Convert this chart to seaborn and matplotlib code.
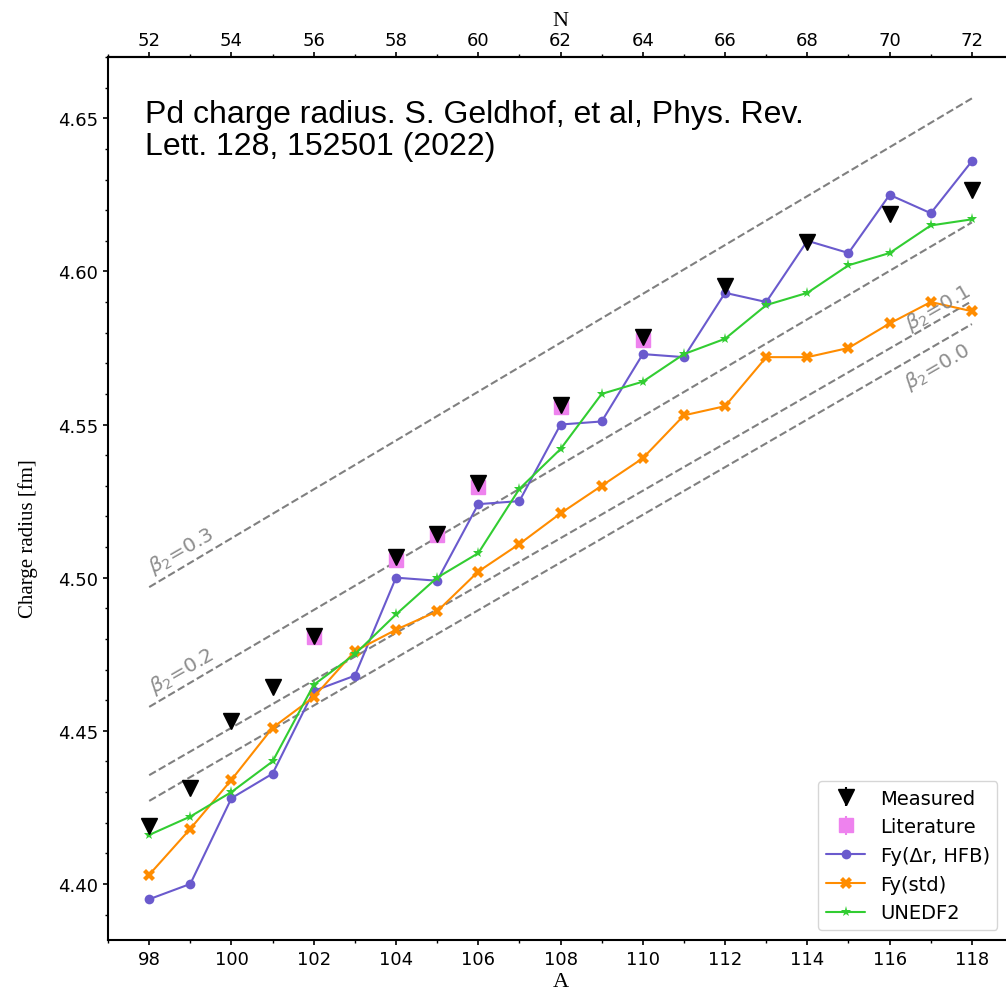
import numpy as np
import pandas as pd
import matplotlib
matplotlib.use("Agg")
import matplotlib.pyplot as plt
import seaborn as sns

# Mass numbers for the model calculations
mass_numbers = list(range(98, 119))

# Fy(Δr, HFB) charge radii [fm]
fy_hfb = [4.395, 4.400, 4.428, 4.436, 4.463, 4.468, 4.500, 4.499, 4.524, 4.525,
          4.550, 4.551, 4.573, 4.572, 4.593, 4.590, 4.610, 4.606, 4.625, 4.619, 4.636]

# Fy(std) charge radii [fm]
fy_std = [4.403, 4.418, 4.434, 4.451, 4.461, 4.476, 4.483, 4.489, 4.502, 4.511,
          4.521, 4.530, 4.539, 4.553, 4.556, 4.572, 4.572, 4.575, 4.583, 4.590, 4.587]

# UNEDF2 charge radii [fm]
unedf2 = [4.416, 4.422, 4.430, 4.440, 4.465, 4.475, 4.488, 4.500, 4.508, 4.529,
          4.542, 4.560, 4.564, 4.573, 4.578, 4.589, 4.593, 4.602, 4.606, 4.615, 4.617]

# Measured charge radii
measured_a = [98, 99, 100, 101, 102, 104, 105, 106, 108, 110, 112, 114, 116, 118]
measured_r = [4.419, 4.4313, 4.4532, 4.4643, 4.481, 4.5067, 4.5142, 4.5309,
              4.5563, 4.5785, 4.5952, 4.6095, 4.6187, 4.6265]
measured_err = [0.002] * len(measured_a)

# Literature charge radii
literature_a = [102, 104, 105, 106, 108, 110]
literature_r = [4.4805, 4.5058, 4.5140, 4.5297, 4.5557, 4.5777]
literature_err = [0.002] * len(literature_a)

# Constant-deformation reference lines (endpoints at A=98 and A=118)
beta_values = ["0.0", "0.1", "0.2", "0.3"]
beta_a = [98, 118]
beta_r = {
    "0.0": [4.4271, 4.5828],
    "0.1": [4.4355, 4.5903],
    "0.2": [4.4578, 4.6160],
    "0.3": [4.4969, 4.6565],
}
beta_label_pos = {
    "0.0": (117.15, 4.569),
    "0.1": (117.17, 4.5883),
    "0.2": (98.78, 4.4698),
    "0.3": (98.78, 4.5090),
}

title_text = "Pd charge radius. S. Geldhof, et al, Phys. Rev.\nLett. 128, 152501 (2022)"

sns.set_style("ticks")
plt.rcParams["font.family"] = ["DejaVu Sans"]
plt.rcParams.update({
    "text.color": "black",
    "axes.labelcolor": "black",
    "xtick.color": "black",
    "ytick.color": "black",
    "axes.edgecolor": "black",
})

fig = plt.figure(figsize=(10.06, 9.95), dpi=100)
ax = fig.add_axes([0.1074, 0.0543, 0.8996, 0.8874])

# Reference lines
for b in beta_values:
    sns.lineplot(x=beta_a, y=beta_r[b], ax=ax, color="gray", linestyle="--",
                 linewidth=1.5, zorder=1, legend=False)
    lx, ly = beta_label_pos[b]
    ax.text(lx, ly, r"$\beta_2$=" + b, color="gray", fontsize=14.5,
            rotation=30, ha="center", va="center", rotation_mode="anchor", alpha=0.9)

# Data points
ax.errorbar(literature_a, literature_r, yerr=literature_err, fmt="s", color="violet",
            markersize=10, elinewidth=1.5, capsize=0, zorder=3, label="Literature")
ax.errorbar(measured_a, measured_r, yerr=measured_err, fmt="v", color="black",
            markersize=11, elinewidth=1.5, capsize=0, zorder=4, label="Measured")

models = pd.DataFrame({"A": mass_numbers, "hfb": fy_hfb, "std": fy_std, "unedf2": unedf2})
sns.lineplot(data=models, x="A", y="hfb", ax=ax, color="slateblue", marker="o",
             markersize=7, markeredgewidth=0, linewidth=1.5, label="Fy(\u0394r, HFB)", zorder=2)
sns.lineplot(data=models, x="A", y="std", ax=ax, color="darkorange", marker="X",
             markersize=8, markeredgewidth=0, linewidth=1.5, label="Fy(std)", zorder=2)
sns.lineplot(data=models, x="A", y="unedf2", ax=ax, color="limegreen", marker="*",
             markersize=8, markeredgewidth=0, linewidth=1.5, label="UNEDF2", zorder=2)

ax.set_xlim(97, 119)
ax.set_ylim(4.3817, 4.6699)
ax.set_xticks(range(98, 119, 2))
ax.set_xticks(range(97, 120), minor=True)
ax.set_yticks([4.40, 4.45, 4.50, 4.55, 4.60, 4.65])
ax.set_yticks(np.arange(4.39, 4.67, 0.01), minor=True)
ax.set_yticklabels(["4.40", "4.45", "4.50", "4.55", "4.60", "4.65"])
ax.tick_params(axis="both", which="major", labelsize=13, length=3.5, width=1.2, pad=3.5)
ax.tick_params(axis="both", which="minor", length=2.5, width=1.0)
for s in ax.spines.values():
    s.set_linewidth(1.5)

serif = ["Liberation Serif", "DejaVu Serif"]
ax.set_xlabel("A", fontsize=16, family=serif, labelpad=3)
ax.set_ylabel("Charge radius [fm]", fontsize=15, family=serif)
ax.yaxis.set_label_coords(-0.077, 0.456)

sec = ax.secondary_xaxis("top", functions=(lambda a: a - 46, lambda n: n + 46))
sec.set_xticks(range(52, 73, 2))
sec.set_xticks(range(51, 74), minor=True)
sec.tick_params(axis="x", which="major", labelsize=13, length=3.5, width=1.2, pad=2.5)
sec.tick_params(axis="x", which="minor", length=2.5, width=1.0)
sec.spines["top"].set_linewidth(1.5)
sec.set_xlabel("N", fontsize=16, family=serif, labelpad=4)

ax.text(0.0405, 0.953, title_text, transform=ax.transAxes, fontsize=23,
        family=["Liberation Sans", "DejaVu Sans"], va="top", ha="left",
        linespacing=1.1, color="black")

handles, labels = ax.get_legend_handles_labels()
order = ["Measured", "Literature", "Fy(\u0394r, HFB)", "Fy(std)", "UNEDF2"]
hmap = dict(zip(labels, handles))
ax.legend([hmap[k] for k in order], order, loc="lower right", fontsize=14,
          frameon=True, bbox_to_anchor=(0.9935, 0.0))

fig.savefig("out.png", dpi=100)
